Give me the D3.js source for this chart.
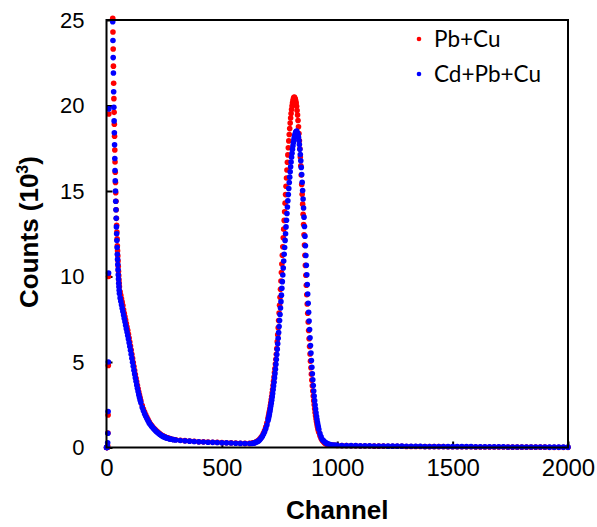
<!DOCTYPE html>
<html>
<head>
<meta charset="utf-8">
<script src="https://cdn.jsdelivr.net/npm/d3@7"></script>
<style>
  body { margin: 0; background: #fff; }
  svg { display: block; }
</style>
</head>
<body>
<svg id="chart" width="597" height="527"></svg>
<script>
const channels = [
  0,1,2,3,4,5,6,7,8,9,10,
  27,28,29,30,31,32,33,34,35,36,37,38,39,40,41,42,43,44,45,46,47,48,49,50,51,52,53,54,55,56,
  59,62,65,68,71,74,77,80,83,86,89,92,95,98,101,104,107,110,113,116,119,122,125,128,131,134,137,140,143,146,149,
  155,160,165,170,175,180,185,190,195,200,205,210,215,220,225,230,235,240,245,250,255,260,265,270,275,280,
  290,300,320,340,360,380,400,420,440,460,480,500,520,540,560,580,600,620,
  630,635,640,645,650,655,660,665,670,675,680,685,690,695,700,
  702,704,706,708,710,712,714,716,718,720,722,724,726,728,730,732,734,736,738,740,
  742,744,746,748,750,752,754,756,758,760,762,764,766,768,770,772,774,776,778,780,
  782,784,786,788,790,792,794,796,798,800,802,804,806,808,810,812,814,816,818,820,
  822,824,826,828,830,832,834,836,838,840,842,844,846,848,850,852,854,856,858,860,
  862,864,866,868,870,872,874,876,878,880,882,884,886,888,890,892,894,896,898,900,
  902,904,906,908,910,912,914,916,918,920,
  925,930,935,940,945,950,955,960,970,980,990,1000,
  1020,1040,1060,1080,1100,1120,1140,1160,1180,1200,1220,1240,1260,1280,1300,1320,1340,1360,1380,1400,
  1420,1440,1460,1480,1500,1520,1540,1560,1580,1600,1620,1640,1660,1680,1700,1720,1740,1760,1780,1800,
  1820,1840,1860,1880,1900,1920,1940,1960,1980,2000
];

const pbCu = [
  0,0,0,0,0,0.1,0.85,1.9,4.8,10.0,19.5,
  25.1,24.3,23.3,22.3,21.3,20.4,19.6,18.9,18.2,17.4,16.7,16.1,15.5,14.9,14.4,13.9,13.4,13.0,12.6,12.2,11.8,11.5,11.2,10.9,10.6,10.3,10.05,9.8,9.6,9.4,
  9.1,8.9,8.7,8.5,8.3,8.05,7.85,7.65,7.45,7.25,7.05,6.85,6.63,6.4,6.17,5.93,5.7,5.45,5.21,4.97,4.73,4.5,4.27,4.05,3.84,3.63,3.43,3.24,3.06,2.89,2.73,
  2.45,2.25,2.07,1.91,1.76,1.63,1.5,1.39,1.3,1.21,1.13,1.06,0.99,0.93,0.87,0.81,0.76,0.72,0.68,0.64,0.61,0.58,0.56,0.54,0.52,0.5,
  0.47,0.45,0.42,0.40,0.38,0.36,0.34,0.33,0.32,0.31,0.30,0.29,0.28,0.27,0.26,0.25,0.24,0.24,
  0.25,0.27,0.28,0.31,0.35,0.38,0.43,0.51,0.59,0.69,0.83,0.99,1.19,1.43,1.71,
  1.84,1.98,2.12,2.27,2.44,2.61,2.80,2.99,3.20,3.41,3.64,3.88,4.12,4.38,4.62,4.88,5.16,5.45,5.78,6.19,
  6.59,7.00,7.42,7.86,8.32,8.78,9.25,9.74,10.23,10.73,11.24,11.74,12.26,12.77,13.28,13.79,14.29,14.79,15.28,15.76,
  16.23,16.68,17.11,17.53,17.93,18.30,18.65,18.97,19.27,19.53,19.77,19.97,20.15,20.28,20.39,20.46,20.50,20.43,20.38,20.28,
  20.14,19.95,19.71,19.44,19.12,18.76,18.36,17.94,17.47,16.99,16.47,15.94,15.38,14.81,14.23,13.64,13.04,12.44,11.84,11.24,
  10.65,10.07,9.49,8.93,8.39,7.85,7.34,6.84,6.36,5.91,5.47,5.05,4.66,4.29,3.94,3.61,3.30,3.01,2.74,2.50,
  2.27,2.05,1.86,1.68,1.52,1.37,1.23,1.11,1.00,0.89,
  0.69,0.53,0.41,0.33,0.26,0.22,0.19,0.17,0.15,0.14,0.13,0.12,
  0.11,0.11,0.10,0.10,0.09,0.09,0.09,0.08,0.08,0.08,0.07,0.07,0.07,0.07,0.06,0.06,0.06,0.06,0.05,0.05,
  0.05,0.05,0.05,0.04,0.04,0.04,0.04,0.04,0.04,0.03,0.03,0.03,0.03,0.03,0.03,0.03,0.02,0.02,0.02,0.02,
  0.02,0.02,0.02,0.02,0.02,0.01,0.01,0.01,0.01,0.01
];

const cdPbCu = [
  0,0,0,0,0.05,0.28,0.83,2.1,5.0,10.2,19.8,
  24.9,23.8,22.8,21.9,20.8,19.9,19.1,18.4,17.7,16.9,16.2,15.6,15.0,14.4,13.9,13.4,12.9,12.5,12.1,11.7,11.3,11.0,10.7,10.4,10.1,9.85,9.6,9.4,9.2,9.0,
  8.75,8.55,8.35,8.15,7.95,7.75,7.55,7.35,7.15,6.95,6.75,6.55,6.35,6.12,5.9,5.68,5.45,5.22,4.98,4.75,4.52,4.3,4.08,3.87,3.66,3.46,3.27,3.09,2.92,2.76,2.61,
  2.34,2.15,1.98,1.83,1.69,1.56,1.44,1.34,1.25,1.17,1.09,1.02,0.95,0.89,0.83,0.78,0.73,0.69,0.65,0.62,0.59,0.56,0.54,0.52,0.5,0.49,
  0.46,0.44,0.41,0.39,0.37,0.35,0.33,0.32,0.31,0.30,0.29,0.28,0.27,0.26,0.25,0.24,0.23,0.23,
  0.23,0.25,0.26,0.29,0.32,0.35,0.40,0.47,0.55,0.64,0.77,0.92,1.10,1.32,1.58,
  1.70,1.83,1.96,2.10,2.26,2.42,2.59,2.77,2.96,3.16,3.37,3.59,3.82,4.07,4.32,4.58,4.86,5.14,5.44,5.75,
  6.06,6.39,6.72,7.07,7.42,7.78,8.16,8.53,8.91,9.31,9.70,10.09,10.50,10.90,11.30,11.70,12.11,12.50,12.90,13.29,
  13.68,14.06,14.43,14.79,15.15,15.49,15.81,16.12,16.42,16.70,16.97,17.21,17.44,17.65,17.83,18.00,18.14,18.26,18.35,18.43,
  18.47,18.50,18.42,18.38,18.28,18.14,17.95,17.72,17.44,17.13,16.77,16.38,15.96,15.51,15.03,14.53,14.01,13.47,12.92,12.36,
  11.80,11.23,10.66,10.10,9.53,8.98,8.44,7.91,7.40,6.90,6.42,5.96,5.52,5.09,4.69,4.31,3.96,3.62,3.30,3.01,
  2.74,2.48,2.25,2.03,1.83,1.65,1.48,1.33,1.20,1.07,
  0.81,0.62,0.47,0.40,0.33,0.28,0.24,0.21,0.17,0.15,0.14,0.13,
  0.12,0.12,0.11,0.11,0.10,0.10,0.10,0.09,0.09,0.09,0.08,0.08,0.08,0.08,0.07,0.07,0.07,0.07,0.06,0.06,
  0.06,0.06,0.06,0.05,0.05,0.05,0.05,0.05,0.05,0.04,0.04,0.04,0.04,0.04,0.04,0.04,0.03,0.03,0.03,0.03,
  0.03,0.03,0.03,0.03,0.03,0.02,0.02,0.02,0.02,0.02
];

const seriesNames  = ["Pb+Cu", "Cd+Pb+Cu"];
const seriesColors = ["#ff0000", "#0000ff"];
const xTicks = [0, 500, 1000, 1500, 2000];
const yTicks = [0, 5, 10, 15, 20, 25];

const width = 597, height = 527;
const margin = { top: 20, right: 29, bottom: 79.5, left: 106.5 };
const innerWidth  = width  - margin.left - margin.right;
const innerHeight = height - margin.top  - margin.bottom;

const svg = d3.select("#chart");
const g = svg.append("g")
  .attr("transform", `translate(${margin.left},${margin.top})`);

const x = d3.scaleLinear().domain([0, 2000]).range([0, innerWidth]);
const y = d3.scaleLinear().domain([0, 25]).range([innerHeight, 0]);

// Achsen mit nach innen zeigenden Ticks
const xAxis = g.append("g")
  .attr("transform", `translate(0,${innerHeight})`)
  .call(d3.axisBottom(x).tickValues(xTicks).tickFormat(d3.format("d"))
    .tickSizeInner(-6).tickSizeOuter(0).tickPadding(11));

const yAxis = g.append("g")
  .call(d3.axisLeft(y).tickValues(yTicks).tickFormat(d3.format("d"))
    .tickSizeInner(-6).tickSizeOuter(0).tickPadding(22));

[xAxis, yAxis].forEach(a => {
  a.select(".domain").remove();
  a.selectAll("line").attr("stroke", "#000").attr("stroke-width", 2);
  a.selectAll("text")
    .attr("fill", "#000")
    .attr("font-family", "'Liberation Sans', Arial, sans-serif");
});
xAxis.selectAll("text").attr("font-size", "24px");
yAxis.selectAll("text").attr("font-size", "22px");

// Datenpunkte (rot zuerst, blau darüber)
const series = [pbCu, cdPbCu];
series.forEach((vals, i) => {
  const pts = channels.map((c, k) => ({ c, v: vals[k] }));
  g.append("g")
    .selectAll("circle")
    .data(pts)
    .join("circle")
    .attr("cx", d => x(d.c))
    .attr("cy", d => y(d.v))
    .attr("r", 2.8)
    .attr("fill", seriesColors[i]);
});

// Rahmen
g.append("rect")
  .attr("width", innerWidth)
  .attr("height", innerHeight)
  .attr("fill", "none")
  .attr("stroke", "#000")
  .attr("stroke-width", 2);

// Achsentitel
svg.append("text")
  .attr("x", margin.left + innerWidth / 2)
  .attr("y", 519)
  .attr("text-anchor", "middle")
  .attr("font-family", "'Liberation Sans', Arial, sans-serif")
  .attr("font-weight", "bold")
  .attr("font-size", "26px")
  .text("Channel");

const yTitle = svg.append("text")
  .attr("transform", "translate(38,232) rotate(-90)")
  .attr("text-anchor", "middle")
  .attr("font-family", "'Liberation Sans', Arial, sans-serif")
  .attr("font-weight", "bold")
  .attr("font-size", "26px");
yTitle.append("tspan").text("Counts (10");
yTitle.append("tspan").attr("dy", -10).attr("font-size", "16px").text("3");
yTitle.append("tspan").attr("dy", 10).text(")");

// Legende
const legend = svg.append("g").attr("transform", "translate(419,39)");
seriesNames.forEach((name, i) => {
  const row = legend.append("g").attr("transform", `translate(0,${i * 35})`);
  row.append("circle").attr("r", 2.3).attr("fill", seriesColors[i]);
  row.append("text")
    .attr("x", 15)
    .attr("dy", "0.35em")
    .attr("font-family", "Lato, 'Open Sans', sans-serif")
    .attr("font-size", "22.5px")
    .attr("fill", "#000")
    .text(name);
});
</script>
</body>
</html>
